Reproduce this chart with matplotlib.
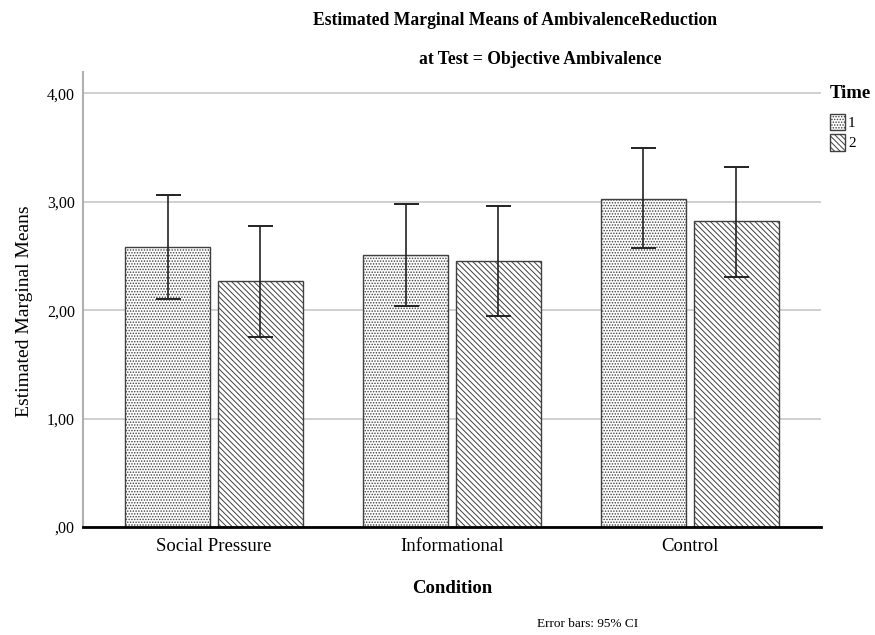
import numpy as np
import matplotlib.pyplot as plt

plt.rcParams["font.family"] = ["Liberation Serif", "DejaVu Serif"]
plt.rcParams["hatch.linewidth"] = 0.7

conditions = ["Social Pressure", "Informational", "Control"]
times = ["1", "2"]
means_t1 = [2.58, 2.51, 3.03]
means_t2 = [2.27, 2.45, 2.82]
lower_t1 = [2.10, 2.04, 2.57]
upper_t1 = [3.06, 2.98, 3.50]
lower_t2 = [1.75, 1.95, 2.31]
upper_t2 = [2.78, 2.96, 3.32]

fig = plt.figure(figsize=(8.75, 6.35), dpi=100)
ax = fig.add_axes([0.095, 0.170, 0.843, 0.717])

x = np.arange(len(conditions))
width = 0.357
offset = 0.195
edge = "#404040"

for i, (means, lo, hi, hatch) in enumerate([
        (means_t1, lower_t1, upper_t1, "......"),
        (means_t2, lower_t2, upper_t2, "\\\\\\\\\\\\")]):
    pos = x + (-offset if i == 0 else offset)
    means = np.array(means)
    yerr = [means - np.array(lo), np.array(hi) - means]
    ax.bar(pos, means, width, color="white", edgecolor=edge, hatch=hatch,
           linewidth=1.0, label=times[i], zorder=2)
    ax.errorbar(pos, means, yerr=yerr, fmt="none", ecolor="#222222",
                elinewidth=1.2, capsize=9, capthick=1.4, zorder=3)

ax.set_xlim(-0.55, 2.55)
ax.set_ylim(0, 4.2)
ax.set_yticks([0, 1, 2, 3, 4])
ax.set_yticklabels([",00", "1,00", "2,00", "3,00", "4,00"], fontsize=11.5)
ax.set_xticks(x)
ax.set_xticklabels(conditions, fontsize=13.5)
ax.tick_params(axis="y", length=0, pad=6)
ax.tick_params(axis="x", length=0, pad=8)
ax.yaxis.grid(True, color="#c8c8c8", linewidth=1.2, zorder=0)
ax.set_axisbelow(True)

for s in ["top", "right"]:
    ax.spines[s].set_visible(False)
ax.spines["left"].set_color("#b0b0b0")
ax.spines["left"].set_linewidth(1.5)
ax.spines["bottom"].set_color("black")
ax.spines["bottom"].set_linewidth(2)
ax.spines["bottom"].set_zorder(4)

ax.set_ylabel("Estimated Marginal Means", fontsize=14)
ax.yaxis.set_label_coords(-0.068, 0.475)
ax.set_xlabel("Condition", fontsize=13.5, fontweight="bold", labelpad=18)

fig.text(0.589, 0.967, "Estimated Marginal Means of AmbivalenceReduction",
         ha="center", va="center", fontsize=12.7, fontweight="bold")
fig.text(0.617, 0.906, "at Test = Objective Ambivalence",
         ha="center", va="center", fontsize=12.7, fontweight="bold")
fig.text(0.672, 0.017, "Error bars: 95% CI", ha="center", va="center",
         fontsize=9.5)

leg = ax.legend(title="Time", loc="upper left", bbox_to_anchor=(1.012, 0.97),
                frameon=False, fontsize=11, handlelength=1.0,
                handleheight=1.3, handletextpad=0.2, labelspacing=0.25,
                borderaxespad=0, borderpad=0)
leg.get_title().set_fontweight("bold")
leg.get_title().set_fontsize(13.5)
leg._legend_box.align = "left"
leg._legend_box.sep = 8

fig.savefig("out.png", dpi=100)
